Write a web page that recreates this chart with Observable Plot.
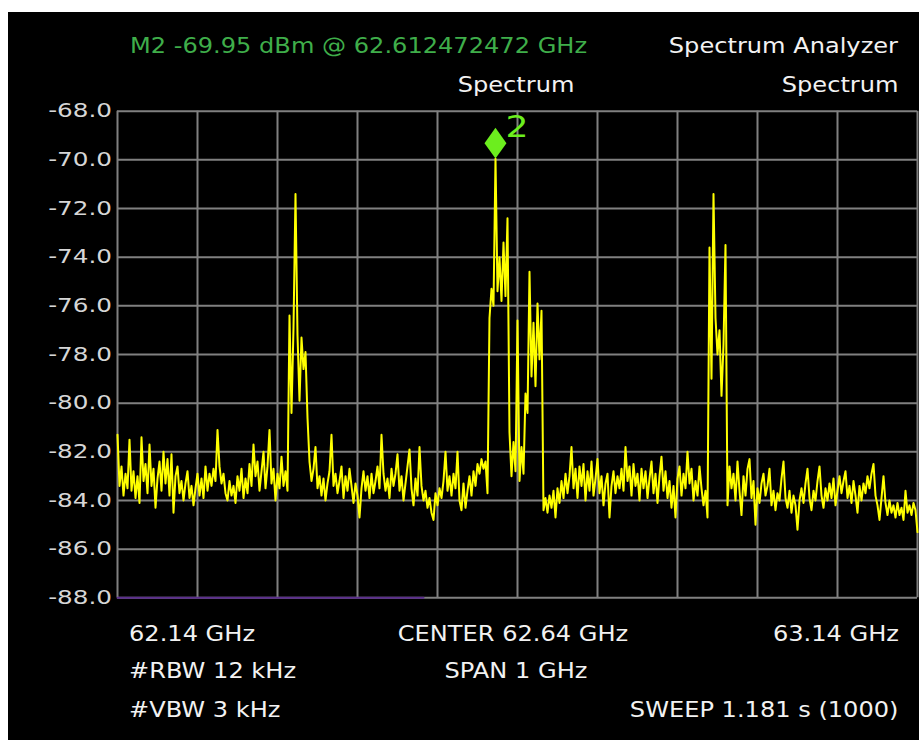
<!DOCTYPE html>
<html><head><meta charset="utf-8">
<script src="https://cdn.jsdelivr.net/npm/d3@7"></script>
<script src="https://cdn.jsdelivr.net/npm/@observablehq/plot@0.6"></script>
<style>
html,body{margin:0;padding:0;background:#fff;}
#wrap{position:relative;width:919px;height:740px;overflow:hidden;background:#fff;}
#chart{position:absolute;left:8px;top:12px;width:911px;height:728px;background:#000;}
</style></head><body><div id="wrap"><div id="chart"></div></div>
<script>
// ---- data ----
const freqStart = 62.14;   // GHz
const freqSpan = 1.0;      // GHz
const level = [
-81.3,-83.4,-82.6,-83.8,-82.9,-83.5,-81.5,-83.6,-82.8,-83.9,
-83.0,-84.1,-81.4,-83.2,-82.5,-83.7,-81.7,-83.4,-82.7,-84.3,
-83.1,-82.4,-83.6,-82.0,-83.3,-82.3,-83.8,-82.1,-84.5,-83.0,
-82.6,-83.7,-83.2,-84.0,-83.3,-82.8,-83.9,-83.4,-84.2,-83.5,
-82.9,-83.8,-83.1,-83.9,-82.6,-83.6,-82.9,-83.4,-82.7,-83.2,
-81.1,-82.6,-83.3,-82.9,-83.7,-84.0,-83.2,-83.8,-83.4,-84.1,
-83.0,-83.6,-82.7,-83.9,-83.1,-83.7,-82.5,-83.4,-81.7,-83.0,
-82.4,-83.6,-82.8,-82.0,-83.5,-82.6,-81.1,-83.3,-82.7,-84.0,
-82.9,-83.5,-82.2,-83.4,-82.8,-83.6,-76.4,-80.4,-76.9,-71.4,
-77.2,-79.9,-77.3,-78.6,-77.9,-80.6,-82.4,-83.2,-82.7,-81.8,
-83.5,-83.0,-83.8,-83.1,-84.0,-83.3,-82.8,-81.3,-83.4,-82.9,
-83.7,-83.2,-82.6,-83.9,-83.0,-83.6,-82.7,-83.4,-84.1,-83.3,
-83.8,-84.7,-83.5,-82.8,-83.6,-83.0,-83.9,-82.9,-83.7,-83.2,
-82.6,-83.5,-81.3,-82.9,-83.6,-83.1,-83.9,-82.7,-83.4,-82.9,
-82.1,-83.6,-83.0,-84.0,-83.3,-82.6,-81.9,-83.5,-84.2,-83.1,
-83.8,-81.8,-83.4,-84.0,-83.6,-84.3,-83.9,-84.5,-84.8,-83.7,
-84.2,-83.5,-83.9,-83.2,-82.0,-83.6,-83.0,-83.8,-82.9,-83.5,
-82.0,-84.0,-84.4,-83.3,-84.3,-83.6,-83.0,-83.8,-82.8,-83.4,
-82.5,-82.9,-82.3,-82.7,-82.4,-83.7,-76.5,-75.3,-76.0,-69.95,
-75.4,-74.0,-75.8,-73.4,-75.6,-72.4,-81.2,-83.0,-81.6,-82.8,
-76.6,-83.2,-81.8,-82.9,-79.6,-80.4,-74.6,-78.9,-76.7,-79.3,
-75.9,-78.2,-76.2,-84.4,-83.9,-84.5,-83.8,-84.3,-83.6,-84.7,
-83.5,-84.1,-83.2,-83.9,-82.9,-83.7,-83.0,-81.8,-83.5,-82.7,
-83.9,-82.6,-83.4,-82.5,-84.0,-82.8,-83.6,-82.4,-83.8,-83.1,
-82.3,-83.7,-83.0,-84.2,-83.3,-82.9,-84.7,-83.4,-82.8,-83.7,
-83.0,-83.5,-82.7,-83.6,-81.8,-83.2,-82.6,-83.8,-82.5,-83.4,
-82.9,-84.0,-82.7,-83.5,-82.8,-83.9,-83.1,-82.4,-83.7,-82.9,
-84.1,-83.0,-82.2,-83.6,-82.8,-83.9,-83.2,-84.3,-83.4,-84.7,
-83.1,-82.6,-83.8,-82.9,-83.5,-82.0,-83.3,-82.7,-84.0,-83.2,
-83.8,-82.6,-83.5,-84.2,-83.6,-84.7,-73.6,-79.0,-71.4,-76.5,
-78.0,-77.0,-79.7,-77.6,-73.5,-84.2,-82.6,-83.5,-82.9,-84.0,
-82.4,-83.6,-84.6,-83.0,-83.8,-82.7,-82.3,-83.9,-83.2,-85.0,
-83.5,-84.1,-83.3,-82.9,-83.8,-83.4,-82.7,-84.2,-83.6,-84.4,
-83.7,-84.0,-83.1,-82.4,-83.9,-84.3,-83.6,-84.5,-83.8,-84.2,
-85.2,-84.0,-83.5,-84.1,-83.3,-82.7,-83.9,-84.4,-83.6,-84.0,
-83.2,-82.6,-83.8,-84.3,-83.5,-84.0,-83.3,-83.9,-83.1,-84.2,
-83.6,-83.0,-83.7,-83.2,-82.8,-83.9,-83.4,-84.1,-83.2,-83.8,
-84.5,-83.4,-84.0,-83.3,-83.7,-83.0,-83.5,-82.9,-82.5,-83.8,
-84.2,-84.8,-83.9,-83.0,-84.1,-84.6,-84.0,-84.5,-84.2,-84.7,
-84.1,-84.6,-84.3,-84.8,-83.6,-84.5,-84.2,-84.6,-84.1,-84.4,
-85.3
];
const trace2Freq = [62.14, 62.5225];
const trace2Level = -88;
const xGrid = [62.14, 62.24, 62.34, 62.44, 62.54, 62.64, 62.74, 62.84, 62.94, 63.04, 63.14];
const yTicks = [-68, -70, -72, -74, -76, -78, -80, -82, -84, -86, -88];
const markerFreq = 62.612472472;
const markerLevel = -69.95;
const markerName = "2";
const headerLeft = "M2 -69.95 dBm @ 62.612472472 GHz";
const headerRight = "Spectrum Analyzer";
const traceTitle = "Spectrum";
const windowTitle = "Spectrum";
const startLabel = "62.14 GHz";
const centerLabel = "CENTER 62.64 GHz";
const stopLabel = "63.14 GHz";
const rbwLabel = "#RBW 12 kHz";
const spanLabel = "SPAN 1 GHz";
const vbwLabel = "#VBW 3 kHz";
const sweepLabel = "SWEEP 1.181 s (1000)";

// ---- build ----
const trace = level.map((v, i) => ({freq: freqStart + freqSpan * i / (level.length - 1), dbm: v}));
const trace2 = trace2Freq.map(f => ({freq: f, dbm: trace2Level}));
const marker = [{freq: markerFreq, dbm: markerLevel}];

const diamond = {
  draw(ctx, size) {
    const h = Math.sqrt(size / 1.42), w = 0.71 * h;
    ctx.moveTo(0, -h); ctx.lineTo(w, 0); ctx.lineTo(0, h); ctx.lineTo(-w, 0); ctx.closePath();
  }
};

const FONT = "DejaVu Sans";
const white = "#f2f2f2";
const green = "#3fae4a";
const lime = "#6cee1e";
const LABEL_SIZE = 20.6, TICK_SIZE = 19, MARK_SIZE = 31;
const lbl = (str, frameAnchor, textAnchor, dx, dy, fill) =>
  Plot.text([str], {text: d => d, frameAnchor, textAnchor, lineAnchor: "bottom", dx, dy,
    fill, fontSize: LABEL_SIZE, fontFamily: FONT});

const chart = Plot.plot({
  width: 911, height: 728,
  marginLeft: 109, marginRight: 2, marginTop: 98.7, marginBottom: 142.7,
  style: {background: "#000", fontFamily: FONT},
  x: {domain: [62.14, 63.14], axis: null},
  y: {domain: [-88, -68], axis: null},
  marks: [
    Plot.ruleX(xGrid, {stroke: "#808080", strokeWidth: 2}),
    Plot.ruleY(yTicks, {stroke: "#808080", strokeWidth: 2}),
    Plot.line(trace2, {x: "freq", y: "dbm", stroke: "#5a2d8c", strokeWidth: 2}),
    Plot.line(trace, {x: "freq", y: "dbm", stroke: "#ffff00", strokeWidth: 2}),
    Plot.dot(marker, {x: "freq", y: "dbm", symbol: diamond, r: 10.4, fill: lime, stroke: "none", dy: -15.5}),
    Plot.text(marker, {x: "freq", y: "dbm", text: () => markerName, textAnchor: "start", lineAnchor: "bottom",
      dx: 10, dy: -22, fill: lime, fontSize: MARK_SIZE, fontFamily: FONT}),
    Plot.text(yTicks, {y: d => d, text: d => d.toFixed(1), frameAnchor: "left", textAnchor: "end",
      lineAnchor: "middle", dx: -5.5, fill: "#d6d6d6", fontSize: TICK_SIZE, fontFamily: FONT}),
    lbl(headerLeft, "top-left", "start", 12.5, -58, green),
    lbl(headerRight, "top-right", "end", -19.5, -58, white),
    lbl(traceTitle, "top", "middle", -1.5, -19.2, white),
    lbl(windowTitle, "top-right", "end", -19, -19.2, white),
    lbl(startLabel, "bottom-left", "start", 11.5, 42.7, white),
    lbl(centerLabel, "bottom", "middle", -4.5, 42.7, white),
    lbl(stopLabel, "bottom-right", "end", -18.5, 42.7, white),
    lbl(rbwLabel, "bottom-left", "start", 11.5, 79.7, white),
    lbl(spanLabel, "bottom", "middle", -1.5, 79.7, white),
    lbl(vbwLabel, "bottom-left", "start", 11.5, 119.2, white),
    lbl(sweepLabel, "bottom-right", "end", -19, 119.2, white)
  ]
});

// widen the instrument font horizontally (text is scaled about its own anchor)
function stretch(svg, size, k) {
  svg.querySelectorAll("text").forEach(t => {
    const g = t.closest("g");
    const fs = parseFloat(t.getAttribute("font-size") || (g && g.getAttribute("font-size")));
    if (Math.abs(fs - size) < 0.01) {
      const tr = t.getAttribute("transform") || "";
      t.setAttribute("transform", tr + ` scale(${k},1)`);
    }
  });
}
stretch(chart, LABEL_SIZE, 1.17);
stretch(chart, MARK_SIZE, 1.17);
stretch(chart, TICK_SIZE, 1.3);
document.getElementById("chart").appendChild(chart);
</script>
</body></html>
